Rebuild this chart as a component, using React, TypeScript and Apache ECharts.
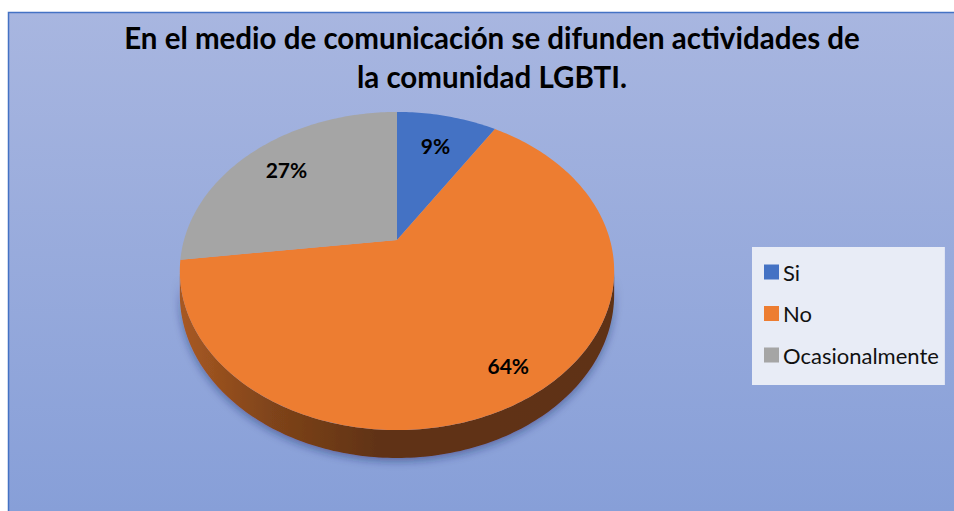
import React, { useEffect, useRef } from 'react';
import * as echarts from 'echarts';

const categories = ['Si', 'No', 'Ocasionalmente'];
const values = [9, 64, 27];
const colors = ['#4472C4', '#ED7D31', '#A5A5A5'];
const titleText = 'En el medio de comunicación se difunden actividades de\nla comunidad LGBTI.';

// layout of the tilted pie
const CX = 397;
const CY = 240;
const RX = 213;
const RY = 153;
const PERSP = 0.195;
const DEPTH = 22.5;
const LABEL_R = [0.735, 0.84, 0.76];
const FONT = "Lato, 'Open Sans', sans-serif";

function proj(theta: number, r: number, drop: number): number[] {
  const u = r * Math.sin(theta);
  const v = -r * Math.cos(theta);
  const w = 1 - PERSP * v;
  return [CX + (RX * u) / w, CY + (RY * v + drop) / w];
}

function arcPoints(a: number, b: number, drop: number): number[][] {
  const pts: number[][] = [];
  const n = Math.max(2, Math.ceil(((b - a) * 180) / Math.PI));
  for (let j = 0; j <= n; j++) pts.push(proj(a + ((b - a) * j) / n, 1, drop));
  return pts;
}

function shade(hex: string, f: number): string {
  const n = parseInt(hex.slice(1), 16);
  const r = Math.round(((n >> 16) & 255) * f);
  const g = Math.round(((n >> 8) & 255) * f);
  const b = Math.round((n & 255) * f);
  return `rgb(${r},${g},${b})`;
}

export default function App() {
  const ref = useRef<HTMLDivElement>(null);
  useEffect(() => {
    document.body.style.margin = '0';
    document.body.style.overflow = 'hidden';
    const chart = echarts.init(ref.current!, null, { renderer: 'svg' });
    const total = values.reduce((s, v) => s + v, 0);
    const renderItem = (params: any) => {
      const i = params.dataIndex;
      const before = values.slice(0, i).reduce((s, v) => s + v, 0);
      const start = (before / total) * Math.PI * 2;
      const end = ((before + values[i]) / total) * Math.PI * 2;
      const children: any[] = [];
      const top = [[CX, CY], ...arcPoints(start, end, 0)];
      children.push({ type: 'polygon', shape: { points: top }, style: { fill: colors[i] }, z2: 10 });
      const a = Math.acos(-PERSP);
      const b = Math.PI * 2 - a;
      const s = Math.max(start, a);
      const e = Math.min(end, b);
      if (s < e) {
        const rimTop = arcPoints(s, e, 0);
        const rimBot = arcPoints(s, e, DEPTH).reverse();
        const c = colors[i];
        children.push({
          type: 'polygon',
          shape: { points: [...rimTop, ...rimBot] },
          style: {
            fill: new echarts.graphic.LinearGradient(CX - RX, 0, CX + RX, 0, [
              { offset: 0, color: shade(c, 0.7) },
              { offset: 0.2, color: shade(c, 0.54) },
              { offset: 0.45, color: shade(c, 0.41) },
              { offset: 1, color: shade(c, 0.4) },
            ], true),
            shadowBlur: 8,
            shadowColor: 'rgba(30,40,90,0.45)',
            shadowOffsetY: 3,
          },
          z2: 5,
        });
      }
      const mid = (start + end) / 2;
      const lp = proj(mid, LABEL_R[i], 0);
      children.push({
        type: 'text',
        x: lp[0],
        y: lp[1],
        style: {
          text: Math.round((values[i] / total) * 100) + '%',
          fill: '#000',
          fontSize: 21,
          fontWeight: 'bold',
          fontFamily: FONT,
          align: 'center',
          verticalAlign: 'middle',
        },
        z2: 20,
      });
      return { type: 'group', children };
    };

    chart.setOption({
      animation: false,
      backgroundColor: '#ffffff',
      graphic: [
        {
          type: 'rect',
          shape: { x: 8, y: 12, width: 946, height: 499 },
          style: {
            fill: new echarts.graphic.LinearGradient(0, 12, 0, 511, [
              { offset: 0, color: '#A8B6E0' },
              { offset: 1, color: '#879FD8' },
            ], true),
          },
          z: -10,
          silent: true,
        },
        {
          type: 'polyline',
          shape: { points: [[8.5, 511], [8.5, 12.5], [954, 12.5]] },
          style: { stroke: '#4472C4', lineWidth: 1.5, fill: 'none' },
          z: -9,
          silent: true,
        },
      ],
      title: {
        text: titleText,
        left: 487,
        top: 13,
        textAlign: 'center',
        textStyle: { fontSize: 29.5, fontWeight: 'bold', color: '#000', fontFamily: FONT, lineHeight: 39 },
      },
      legend: {
        orient: 'vertical',
        left: 752,
        top: 247,
        data: categories,
        icon: 'rect',
        itemWidth: 15,
        itemHeight: 15,
        itemGap: 19.5,
        padding: [14, 6, 19, 12],
        backgroundColor: '#E8ECF6',
        selectedMode: false,
        textStyle: { fontSize: 22, color: '#111', fontFamily: FONT, padding: [0, 0, 0, -1] },
      },
      series: [
        {
          type: 'pie',
          name: 'legend',
          radius: [0, 0],
          center: [CX, CY],
          silent: true,
          label: { show: false },
          labelLine: { show: false },
          data: categories.map((n, i) => ({ name: n, value: values[i], itemStyle: { color: colors[i] } })),
        },
        {
          type: 'custom',
          name: 'pie3d',
          coordinateSystem: 'none',
          silent: true,
          renderItem,
          data: values.map((v, i) => ({ name: categories[i], value: v })),
        },
      ],
    });
    return () => chart.dispose();
  }, []);
  return <div ref={ref} style={{ width: 954, height: 511 }} />;
}
